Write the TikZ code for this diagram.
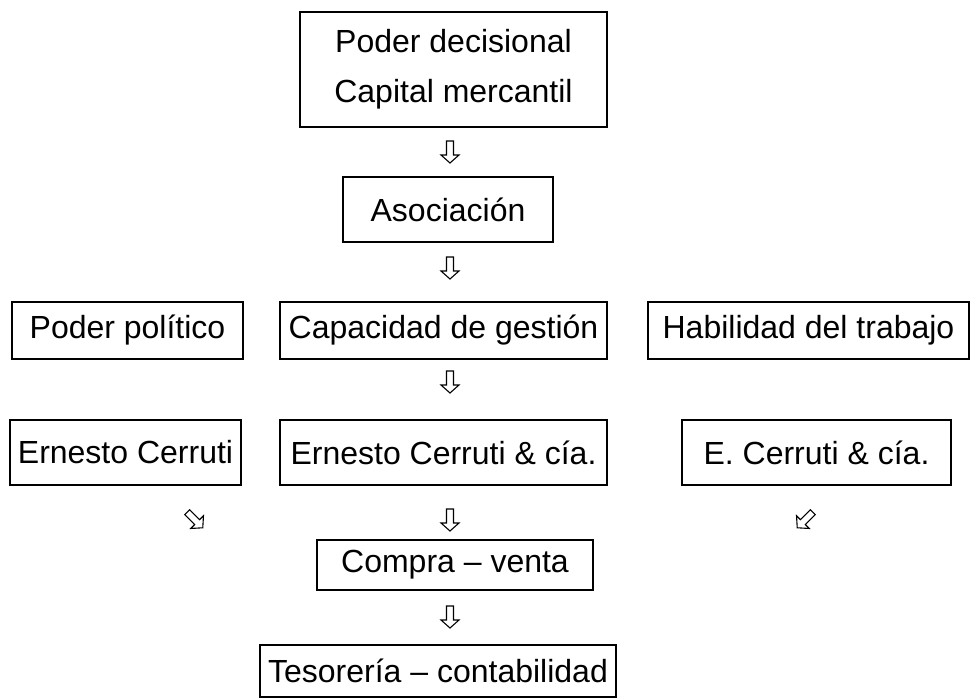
\documentclass[tikz,border=0pt]{standalone}
\usepackage{fontspec}
\setmainfont{Liberation Sans}

\begin{document}
\begin{tikzpicture}[x=1pt, y=-1pt,
  box/.style={draw, line width=1.4pt, inner sep=0pt, align=center,
    font=\fontsize{32}{50}\selectfont},
  whitearrow/.pic={
    \draw[line width=1.1pt, line join=miter]
      (-3.5,-11) -- (3.5,-11) -- (3.5,3) -- (9,3) -- (0,11) -- (-9,3) -- (-3.5,3) -- cycle;
  }]
  \useasboundingbox (0,0) rectangle (971,698);

  % Top of the chain
  \node[box, minimum width=307pt, minimum height=115pt] (capital) at (453.5,69.5)
    {Poder decisional\\Capital mercantil};
  \node[box, minimum width=210pt, minimum height=65pt] (asoc) at (448,209.5) {Asociación};

  % First row
  \node[box, minimum width=231pt, minimum height=57pt] (politico) at (127.5,330.5) {Poder político};
  \node[box, minimum width=327pt, minimum height=57pt] (gestion) at (443.5,330.5) {Capacidad de gestión};
  \node[box, minimum width=321pt, minimum height=57pt] (habilidad) at (808.5,330.5) {Habilidad del trabajo};

  % Second row
  \node[box, minimum width=231pt, minimum height=65pt] (cerruti) at (125.5,452.5) {Ernesto Cerruti};
  \node[box, minimum width=327pt, minimum height=65pt] (cerruticia) at (443.5,452.5) {Ernesto Cerruti \& cía.};
  \node[box, minimum width=269pt, minimum height=65pt] (ecerruti) at (816.5,452.5) {E. Cerruti \& cía.};

  % Bottom of the chain
  \node[box, minimum width=276pt, minimum height=50pt] (compra) at (455,565) {Compra -- venta};
  \node[box, minimum width=356pt, minimum height=52pt] (tesoreria) at (438,671) {Tesorería -- contabilidad};

  % White arrows
  \foreach \y in {152, 268, 382, 520, 617}
    \pic at (450,\y) {whitearrow};
  \pic[rotate=45] at (195,520) {whitearrow};
  \pic[rotate=-45] at (805,520) {whitearrow};
\end{tikzpicture}
\end{document}
